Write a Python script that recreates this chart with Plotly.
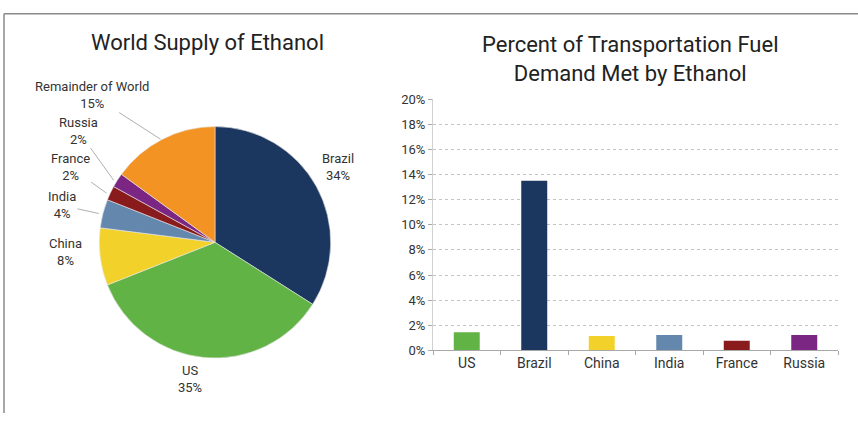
import math
import plotly.graph_objects as go

# ---- data ----
pie_labels = ["Brazil", "US", "China", "India", "France", "Russia", "Remainder of World"]
pie_values = [34, 35, 8, 4, 2, 2, 15]
pie_colors = ["#1b365f", "#62b346", "#f2d22a", "#6488ad", "#8a1b1d", "#7b2682", "#f39324"]

bar_cats = ["US", "Brazil", "China", "India", "France", "Russia"]
bar_vals = [1.43, 13.5, 1.15, 1.23, 0.77, 1.23]
bar_colors = ["#62b346", "#1b365f", "#f2d22a", "#6488ad", "#8a1b1d", "#7b2682"]
y_ticks = list(range(0, 21, 2))
y_ticktext = [f"{v}%" for v in y_ticks]

W, H = 858, 421
FONT = "Roboto, Liberation Sans, sans-serif"

def px(x):
    return x / W

def py(y):
    return 1 - y / H

# pie geometry (pixels)
pcx, pcy, pr = 215, 244, 120

fig = go.Figure()
fig.add_trace(go.Pie(
    labels=pie_labels, values=pie_values, sort=False, direction="clockwise", rotation=0,
    marker=dict(colors=pie_colors, line=dict(color="#e8e8e8", width=0.6)),
    textinfo="none", hoverinfo="label+percent", showlegend=False,
    domain=dict(x=[px(pcx - pr), px(pcx + pr)], y=[py(pcy + pr), py(pcy - pr)]),
))

fig.add_trace(go.Bar(
    x=bar_cats, y=bar_vals, marker=dict(color=bar_colors, line=dict(width=0)),
    showlegend=False, xaxis="x", yaxis="y",
))

label_style = {
    "Brazil": dict(arrow=False, pos=(338, 166)),
    "US": dict(arrow=False, pos=(190, 386)),
    "China": dict(arrow=False, pos=(65, 254)),
    "India": dict(arrow=True, pos=(62, 206)),
    "France": dict(arrow=True, pos=(70, 167)),
    "Russia": dict(arrow=True, pos=(78, 130)),
    "Remainder of World": dict(arrow=True, pos=(92, 93)),
}

annotations = []
total = sum(pie_values)
cum = 0
for lab, val in zip(pie_labels, pie_values):
    mid = (cum + val / 2) / total * 2 * math.pi
    cum += val
    ex = pcx + pr * math.sin(mid)
    ey = pcy - pr * math.cos(mid)
    st = label_style[lab]
    lx, ly = st["pos"]
    text = f"{lab}<br>{round(val / total * 100)}%"
    if st["arrow"]:
        annotations.append(dict(
            x=px(ex), y=py(ey), xref="paper", yref="paper",
            ax=lx - ex, ay=ly - ey, text=text, showarrow=True, arrowhead=0,
            arrowwidth=0.8, arrowcolor="#9a9a9a", standoff=0, startstandoff=0,
            font=dict(family=FONT, size=13, color="#333333"), align="center",
        ))
    else:
        annotations.append(dict(
            x=px(lx), y=py(ly), xref="paper", yref="paper", text=text, showarrow=False,
            font=dict(family=FONT, size=13, color="#333333"), align="center",
            xanchor="center", yanchor="middle",
        ))

annotations.append(dict(
    x=px(207), y=py(37), xref="paper", yref="paper", text="World Supply of Ethanol",
    showarrow=False, font=dict(family=FONT, size=22, color="#222222"),
    xanchor="center", yanchor="middle",
))
annotations.append(dict(
    x=px(630), y=py(54), xref="paper", yref="paper",
    text="Percent of Transportation Fuel<br>Demand Met by Ethanol",
    showarrow=False, font=dict(family=FONT, size=22, color="#222222"),
    xanchor="center", yanchor="middle", align="center",
))

shapes = [
    dict(type="line", xref="paper", yref="paper", x0=px(4), x1=1.0, y0=py(7), y1=py(7),
         line=dict(color="#8a8a8a", width=1.5)),
    dict(type="line", xref="paper", yref="paper", x0=px(4), x1=px(4), y0=py(7), y1=0,
         line=dict(color="#8a8a8a", width=1.5)),
]

fig.update_layout(
    width=W, height=H, margin=dict(l=0, r=0, t=0, b=0),
    paper_bgcolor="white", plot_bgcolor="white",
    font=dict(family=FONT, color="#333333"),
    bargap=0.615,
    xaxis=dict(domain=[px(433), px(838)], showline=True, linecolor="#a8a8a8", linewidth=1,
               ticks="outside", tickson="boundaries", ticklen=4, tickcolor="#a8a8a8",
               tickfont=dict(family=FONT, size=14, color="#333333"), showgrid=False,
               fixedrange=True),
    yaxis=dict(domain=[py(356), py(95.7)], range=[0, 20], tickvals=y_ticks, ticktext=y_ticktext,
               showline=True, linecolor="#d0d0d0", linewidth=1,
               ticks="outside", ticklen=4, tickcolor="#a8a8a8",
               showgrid=True, gridcolor="#c4c4c4", griddash="dot", gridwidth=1,
               zeroline=False, tickfont=dict(family=FONT, size=13, color="#333333"),
               fixedrange=True),
    annotations=annotations, shapes=shapes,
)

post = (
    "document.documentElement.style.margin='0';"
    "document.documentElement.style.padding='0';"
    "document.documentElement.style.overflow='hidden';"
    "document.body.style.margin='0';"
    "document.body.style.padding='0';"
    "document.body.style.overflow='hidden';"
)
fig.write_html("out.html", config={"displayModeBar": False}, post_script=post)
